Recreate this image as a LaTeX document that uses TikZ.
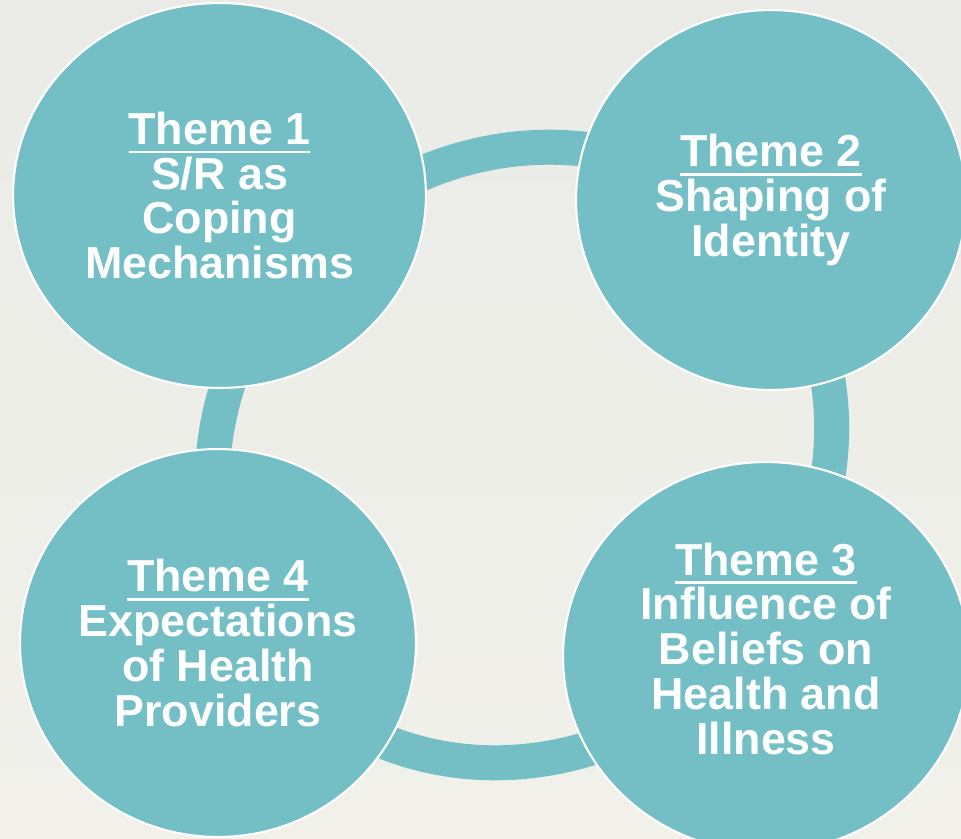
\documentclass[tikz,border=0pt]{standalone}
\usepackage{fontspec}
\setmainfont{Liberation Sans}
\usetikzlibrary{shapes.geometric}

\definecolor{themeteal}{RGB}{115,191,197}
\definecolor{cloudgrey}{RGB}{234,235,231}
\definecolor{cloudwhite}{RGB}{248,248,246}
\definecolor{cloudsand}{RGB}{241,241,234}

% underlined heading of each theme
\newcommand{\themehead}[1]{\setbox0\hbox{#1}\rlap{\rule[-5pt]{\wd0}{1.4pt}}\box0}

\begin{document}
\begin{tikzpicture}[
   x=0.02cm, y=-0.02cm,
   theme/.style={ellipse, fill=themeteal, draw=white, line width=1.2pt, inner sep=0pt,
      text=white, font=\bfseries\fontsize{25.5}{25.5}\selectfont},
   every node/.append style={align=center}  % <-- support line break
]
\tikzset{cycle ring/.style={ellipse, draw=themeteal, line width=0.7cm, inner sep=0pt}}

% background
\useasboundingbox (0,0) rectangle (961,839);
\fill[top color=cloudgrey, middle color=cloudwhite, bottom color=cloudsand] (0,0) rectangle (961,839);

% ring behind the themes
\node (ring) [cycle ring, minimum width=12.88cm, minimum height=11.8cm, rotate=43] at (522,455) {};

\node (t1) [theme, minimum width=8.26cm, minimum height=7.7cm] at (219.5,195.5)
    {\themehead{Theme 1}\\S/R as\\Coping\\Mechanisms};
\node (t2) [theme, minimum width=7.8cm, minimum height=7.6cm] at (771,200)
    {\themehead{Theme 2}\\Shaping of\\Identity};
\node (t3) [theme, minimum width=8.12cm, minimum height=7.8cm, text depth=0.34cm] at (766,657)
    {\themehead{Theme 3}\\Influence of\\Beliefs on\\Health and\\Illness};
\node (t4) [theme, minimum width=7.92cm, minimum height=7.76cm] at (218,643)
    {\themehead{Theme 4}\\Expectations\\of Health\\Providers};
\end{tikzpicture}
\end{document}
